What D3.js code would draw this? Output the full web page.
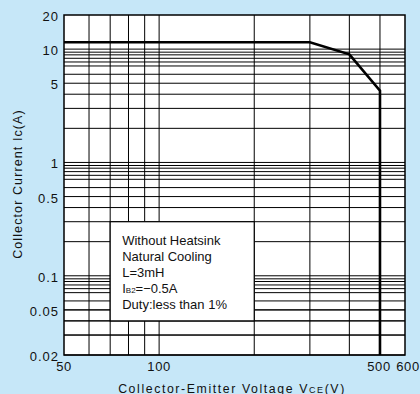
<!DOCTYPE html>
<html><head><meta charset="utf-8">
<script src="https://cdn.jsdelivr.net/npm/d3@7"></script>
<style>
html,body{margin:0;padding:0;background:#c6e7f8;}
svg{display:block;font-family:"Liberation Sans",Arial,sans-serif;}
</style></head>
<body>
<svg id="chart" width="420" height="394"></svg>
<script>
// ---- data ----
const curveV = [50, 300, 400, 500, 500];
const curveI = [11.5, 11.5, 9, 4.3, 0.02];
const xTickValues = [50, 100, 500, 600];
const xTickLabels = ["50", "100", "500", "600"];
const yTickValues = [20, 10, 5, 1, 0.5, 0.1, 0.05, 0.02];
const yTickLabels = ["20", "10", "5", "1", "0.5", "0.1", "0.05", "0.02"];
const xGridValues = [60, 70, 80, 90, 100, 200, 300, 400, 500];
const yGridDecades = [10, 1, 0.1];
const yGridSteps = [1, 0.94, 0.89, 0.83, 0.77, 0.71, 0.6, 0.5, 0.4, 0.3, 0.2];
const noteLines = ["Without Heatsink", "Natural Cooling", "L=3mH", "IB2", "Duty:less than 1%"];
const noteBoxV = [70, 200];
const noteBoxI = [0.3, 0.04];

// ---- layout ----
const svg = d3.select("#chart");
const x = d3.scaleLog().domain([50, 600]).range([64, 405]);
const y = d3.scaleLog().domain([0.02, 20]).range([355, 15]);

svg.append("rect").attr("x", x(50)).attr("y", y(20))
  .attr("width", x(600) - x(50)).attr("height", y(0.02) - y(20))
  .attr("fill", "#fff");

const yGrid = [];
yGridDecades.forEach(d => yGridSteps.forEach(s => yGrid.push(d * s)));
yGrid.push(0.05, 0.04, 0.03);

const g = svg.append("g");
g.selectAll("line.h").data(yGrid).join("line").attr("class", "h")
  .attr("x1", x(50)).attr("x2", x(600))
  .attr("y1", d => y(d)).attr("y2", d => y(d))
  .attr("stroke", "#000").attr("stroke-width", 1);
g.selectAll("line.v").data(xGridValues).join("line").attr("class", "v")
  .attr("x1", d => x(d)).attr("x2", d => x(d))
  .attr("y1", y(20)).attr("y2", y(0.02))
  .attr("stroke", "#000").attr("stroke-width", 1);

// note box
svg.append("rect")
  .attr("x", x(noteBoxV[0])).attr("y", y(noteBoxI[0]))
  .attr("width", x(noteBoxV[1]) - x(noteBoxV[0]))
  .attr("height", y(noteBoxI[1]) - y(noteBoxI[0]))
  .attr("fill", "#fff").attr("stroke", "#000").attr("stroke-width", 1.2);

const nt = svg.append("g").attr("font-size", 13).attr("fill", "#111");
noteLines.forEach((t, i) => {
  const tx = nt.append("text").attr("x", x(noteBoxV[0]) + 12).attr("y", y(noteBoxI[0]) + 23 + i * 16);
  if (t === "IB2") {
    tx.append("tspan").text("I");
    tx.append("tspan").attr("font-size", 8).text("B2");
    tx.append("tspan").text("=\u22120.5A");
  } else tx.text(t);
});

// frame
svg.append("rect").attr("x", x(50)).attr("y", y(20))
  .attr("width", x(600) - x(50)).attr("height", y(0.02) - y(20))
  .attr("fill", "none").attr("stroke", "#000").attr("stroke-width", 1.5);

// curve
const line = d3.line().x(d => x(d[0])).y(d => y(d[1]));
svg.append("path").datum(curveV.map((v, i) => [v, curveI[i]]))
  .attr("d", line).attr("fill", "none").attr("stroke", "#000")
  .attr("stroke-width", 2.6).attr("stroke-linejoin", "miter");

// ticks
svg.append("g").attr("font-size", 13).attr("fill", "#111").attr("letter-spacing", 1)
  .selectAll("text").data(yTickValues).join("text")
  .attr("x", 59).attr("y", d => y(d) + 6).attr("text-anchor", "end")
  .text((d, i) => yTickLabels[i]);
svg.append("g").attr("font-size", 13).attr("fill", "#111").attr("letter-spacing", 0.6)
  .selectAll("text").data(xTickValues).join("text")
  .attr("x", d => x(d) + (d === 600 ? 3 : d === 500 ? -1 : 0)).attr("y", 371).attr("text-anchor", "middle")
  .text((d, i) => xTickLabels[i]);

// axis titles
const xt = svg.append("text").attr("x", 232).attr("y", 392.5).attr("text-anchor", "middle")
  .attr("font-size", 12.3).attr("letter-spacing", 1.6).attr("fill", "#111");
xt.append("tspan").text("Collector-Emitter Voltage V");
xt.append("tspan").attr("font-size", 9).text("CE");
xt.append("tspan").text("(V)");

svg.append("text").attr("transform", "translate(22,184) rotate(-90)")
  .attr("text-anchor", "middle").attr("font-size", 12.5).attr("letter-spacing", 1.1)
  .attr("fill", "#111").text("Collector Current Ic(A)");
</script>
</body></html>
